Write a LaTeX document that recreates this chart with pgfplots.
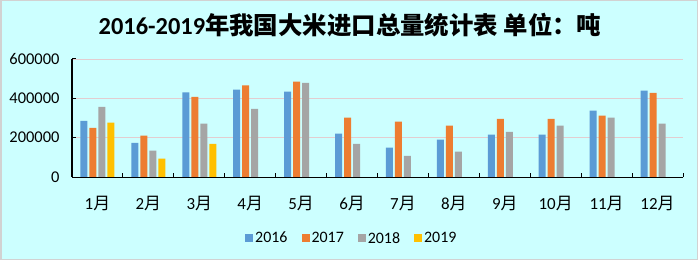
\documentclass[border=0pt]{standalone}
\usepackage{fontspec}
\setmainfont{Carlito}
\newfontfamily\cjk{Noto Sans CJK SC}
\usepackage{pgfplots}
\pgfplotsset{compat=1.18}
\definecolor{bg}{HTML}{CCFFFF}
\definecolor{gridc}{HTML}{E3CDD0}
\definecolor{c16}{HTML}{5B9BD5}
\definecolor{c17}{HTML}{ED7D31}
\definecolor{c18}{HTML}{A5A5A5}
\definecolor{c19}{HTML}{FFC000}
\begin{document}
\begin{tikzpicture}
\fill[bg] (0,0) rectangle (698bp,260bp);
\draw[gray!35, line width=1.5bp] (0.75bp,0.75bp) rectangle (697.25bp,259.25bp);
\useasboundingbox (0,0) rectangle (698bp,260bp);
\node[anchor=base, inner sep=0pt, font=\fontsize{24.5}{28}\selectfont\bfseries] at (350bp,225bp) {2016-2019{\cjk 年我国大米进口总量统计表 单位：吨}};
\begin{axis}[
  at={(72bp,83bp)}, anchor=south west,
  scale only axis, width=611bp, height=118bp,
  xmin=-0.5, xmax=11.5, ymin=0, ymax=600000,
  ybar=2bp, bar width=7bp,
  axis x line*=bottom, axis y line*=left,
  x axis line style={-, black, line width=1bp},
  y axis line style={-, black, line width=1.2bp},
  xtick={0,...,11},
  xticklabels={1{\cjk 月},2{\cjk 月},3{\cjk 月},4{\cjk 月},5{\cjk 月},6{\cjk 月},7{\cjk 月},8{\cjk 月},9{\cjk 月},10{\cjk 月},11{\cjk 月},12{\cjk 月}},
  major x tick style={draw=none},
  minor xtick={-0.5,0.5,...,11.5},
  minor tick length=4bp, major tick length=4bp,
  tick align=inside,
  tick style={black, line width=1bp},
  ytick={0,200000,400000,600000},
  ymajorgrids, grid style={color=gridc, line width=0.9bp},
  scaled y ticks=false,
  yticklabel style={/pgf/number format/fixed, /pgf/number format/1000 sep={}, xshift=-9bp, font=\fontsize{16.5}{16.5}\selectfont},
  /pgf/number format/assume math mode=true,
  xticklabel style={yshift=-16bp, font=\fontsize{17}{17}\selectfont},
  legend columns=4,
  legend style={at={(axis description cs:0.458,-0.52)}, anchor=center, draw=none, fill=none,
    font=\fontsize{16}{16}\selectfont,
    /tikz/every even column/.append style={column sep=12bp}},
  legend image code/.code={\fill[#1] (0bp,-4bp) rectangle (8bp,4bp);},
]
\addplot[fill=c16, draw=none] coordinates {(0,286000)(1,174000)(2,430000)(3,444000)(4,434000)(5,220000)(6,149000)(7,190000)(8,215000)(9,215000)(10,337000)(11,439000)};
\addplot[fill=c17, draw=none] coordinates {(0,250000)(1,210000)(2,408000)(3,466000)(4,485000)(5,302000)(6,281000)(7,261000)(8,296000)(9,296000)(10,312000)(11,428000)};
\addplot[fill=c18, draw=none] coordinates {(0,357000)(1,134000)(2,271000)(3,347000)(4,479000)(5,169000)(6,108000)(7,129000)(8,230000)(9,261000)(10,302000)(11,271000)};
\addplot[fill=c19, draw=none] coordinates {(0,276000)(1,93000)(2,169000)};
\legend{2016,2017,2018,2019}
\end{axis}
\end{tikzpicture}
\end{document}
